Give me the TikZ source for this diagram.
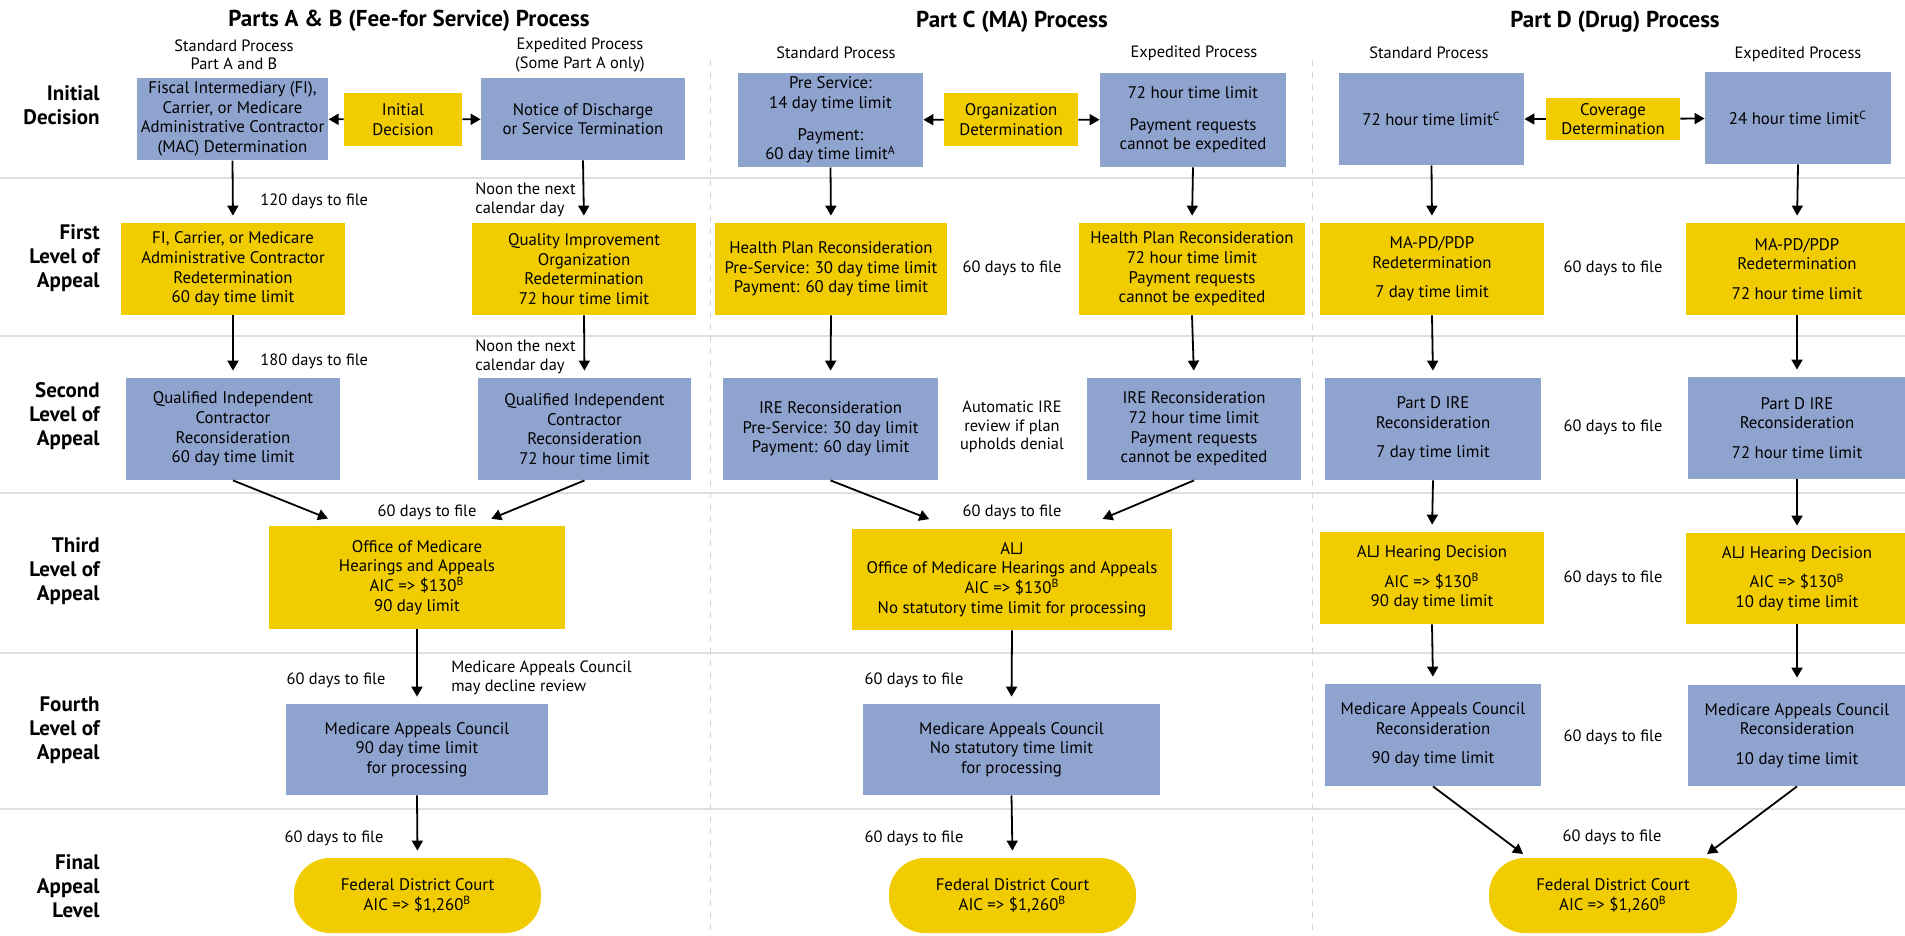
\documentclass[tikz,border=0pt]{standalone}
\usepackage{fontspec}
\setmainfont{PT Sans}
\usepackage{tikz}
\usetikzlibrary{
  arrows.meta,
  positioning
}
\usepackage{xcolor}
\definecolor{bxblue}{HTML}{8FA3CF}
\definecolor{bxgold}{HTML}{F0CC00}

\begin{document}
\begin{tikzpicture}[x=0.5pt, y=-0.5pt,
    bb/.style={fill=bxblue, align=center, inner sep=2pt,
               font=\fontsize{8.4}{9.8}\selectfont},
    by/.style={bb, fill=bxgold},
    ct/.style={by, rounded corners=18pt},
    lf/.style={align=center, inner sep=1pt, font=\fontsize{8.2}{9.2}\selectfont},
    hd/.style={font=\bfseries\fontsize{11.5}{13}\selectfont},
    rw/.style={align=right, anchor=east, inner sep=0pt,
               font=\bfseries\fontsize{10.5}{12}\selectfont},
    ar/.style={-{Triangle[length=5pt,width=5.5pt]}, line width=0.9pt},
    sep/.style={gray!25, line width=1pt},
    col/.style={gray!35, dashed, line width=0.4pt}
  ]
    \useasboundingbox (0,0) rectangle (1905,936);
    \foreach \y in {178,336,493,653,809} \draw[sep] (0,\y) -- (1905,\y);
    \foreach \x in {710,1312} \draw[col] (\x,60) -- (\x,936);

    % headings and row labels
    \node[hd] (tab) at (409,21) {Parts A \& B (Fee-for Service) Process};
    \node[hd] (tc)  at (1012,22) {Part C (MA) Process};
    \node[hd] (td)  at (1615,22) {Part D (Drug) Process};
    \node[lf] (sab) at (234,55) {Standard Process\\Part A and B};
    \node[lf] (eab) at (580,55) {Expedited Process\\(Some Part A only)};
    \node[lf] (sc)  at (836,53) {Standard Process};
    \node[lf] (ec)  at (1194,53) {Expedited Process};
    \node[lf] (sd)  at (1429,53) {Standard Process};
    \node[lf] (ed)  at (1798,54) {Expedited Process};
    \node[rw] (r0) at (100,105) {Initial\\Decision};
    \node[rw] (r1) at (100,258) {First\\Level of\\Appeal};
    \node[rw] (r2) at (100,416) {Second\\Level of\\Appeal};
    \node[rw] (r3) at (100,571) {Third\\Level of\\Appeal};
    \node[rw] (r4) at (100,730) {Fourth\\Level of\\Appeal};
    \node[rw] (r5) at (100,886) {Final\\Appeal\\Level};

    % parts A and B
    \node[bb, minimum width=92.5pt, minimum height=41pt] (fimac) at (232.5,119)
      {Fiscal Intermediary (FI),\\Carrier, or Medicare\\Administrative Contractor\\(MAC) Determination};
    \node[by, minimum width=59pt, minimum height=26.5pt] (initdec) at (403,119.5) {Initial\\Decision};
    \node[bb, minimum width=102pt, minimum height=41pt] (notice) at (583,119)
      {Notice of Discharge\\or Service Termination};
    \node[by, minimum width=112pt, minimum height=46pt] (redet) at (233,269)
      {FI, Carrier, or Medicare\\Administrative Contractor\\Redetermination\\60 day time limit};
    \node[by, minimum width=112pt, minimum height=46pt] (qio) at (584,269)
      {Quality Improvement\\Organization\\Redetermination\\72 hour time limit};
    \node[bb, minimum width=107pt, minimum height=51pt] (qicstd) at (233,429)
      {Qualified Independent\\Contractor\\Reconsideration\\60 day time limit};
    \node[bb, minimum width=106.5pt, minimum height=51pt] (qicexp) at (584.5,429)
      {Qualified Independent\\Contractor\\Reconsideration\\72 hour time limit};
    \node[by, minimum width=148pt, minimum height=51.5pt] (omha) at (417,577.5)
      {Office of Medicare\\Hearings and Appeals\\AIC => \$130\textsuperscript{B}\\90 day limit};
    \node[bb, minimum width=131pt, minimum height=45.5pt] (macab) at (417,749.5)
      {Medicare Appeals Council\\90 day time limit\\for processing};
    \node[ct, minimum width=123.5pt, minimum height=37.5pt] (fdcab) at (417.5,895.5)
      {Federal District Court\\AIC => \$1,260\textsuperscript{B}};
    \node[lf, anchor=west] (l120) at (258,201) {120 days to file};
    \node[lf, anchor=west, align=left] (lnoon1) at (473,200) {Noon the next\\calendar day};
    \node[lf, anchor=west] (l180) at (258,361) {180 days to file};
    \node[lf, anchor=west, align=left] (lnoon2) at (473,357) {Noon the next\\calendar day};
    \node[lf] (lab3) at (427,512) {60 days to file};
    \node[lf] (lab4) at (336,680) {60 days to file};
    \node[lf, anchor=west, align=left] (ldecl) at (449,678) {Medicare Appeals Council\\may decline review};
    \node[lf] (lab5) at (334,838) {60 days to file};

    % part C
    \node[bb, minimum width=92.5pt, minimum height=47pt] (preserv) at (830.5,120)
      {Pre Service:\\14 day time limit\\[6pt]Payment:\\60 day time limit\textsuperscript{A}};
    \node[by, minimum width=67pt, minimum height=26.5pt] (orgdet) at (1011,119.5) {Organization\\Determination};
    \node[bb, minimum width=93pt, minimum height=47pt] (cexp) at (1193,120)
      {72 hour time limit\\[6pt]Payment requests\\cannot be expedited};
    \node[by, minimum width=116pt, minimum height=46pt] (hprstd) at (831,269)
      {Health Plan Reconsideration\\Pre-Service: 30 day time limit\\Payment: 60 day time limit};
    \node[by, minimum width=113pt, minimum height=46pt] (hprexp) at (1192,269)
      {Health Plan Reconsideration\\72 hour time limit\\Payment requests\\cannot be expedited};
    \node[bb, minimum width=107.5pt, minimum height=51pt] (irestd) at (830.5,429)
      {IRE Reconsideration\\Pre-Service: 30 day limit\\Payment: 60 day limit};
    \node[bb, minimum width=107pt, minimum height=51pt] (ireexp) at (1194,429)
      {IRE Reconsideration\\72 hour time limit\\Payment requests\\cannot be expedited};
    \node[by, minimum width=160pt, minimum height=50.5pt] (aljc) at (1012,579.5)
      {ALJ\\Office of Medicare Hearings and Appeals\\AIC => \$130\textsuperscript{B}\\No statutory time limit for processing};
    \node[bb, minimum width=148.5pt, minimum height=45.5pt] (macc) at (1011.5,749.5)
      {Medicare Appeals Council\\No statutory time limit\\for processing};
    \node[ct, minimum width=123.5pt, minimum height=37.5pt] (fdcc) at (1012.5,895.5)
      {Federal District Court\\AIC => \$1,260\textsuperscript{B}};
    \node[lf] (lc1) at (1012,268) {60 days to file};
    \node[lf] (lcauto) at (1012,427) {Automatic IRE\\review if plan\\upholds denial};
    \node[lf] (lc3) at (1012,512) {60 days to file};
    \node[lf] (lc4) at (914,680) {60 days to file};
    \node[lf] (lc5) at (914,838) {60 days to file};

    % part D
    \node[bb, minimum width=92.5pt, minimum height=46pt] (dstd) at (1431.5,119) {72 hour time limit\textsuperscript{C}};
    \node[by, minimum width=67pt, minimum height=21pt] (covdet) at (1613,119) {Coverage\\Determination};
    \node[bb, minimum width=93pt, minimum height=46pt] (dexp) at (1798,118) {24 hour time limit\textsuperscript{C}};
    \node[by, minimum width=112pt, minimum height=46pt] (mapdstd) at (1432,269)
      {MA-PD/PDP\\Redetermination\\[5pt]7 day time limit};
    \node[by, minimum width=111pt, minimum height=46pt] (mapdexp) at (1797,269)
      {MA-PD/PDP\\Redetermination\\[5pt]72 hour time limit};
    \node[bb, minimum width=108pt, minimum height=51pt] (direstd) at (1433,429)
      {Part D IRE\\Reconsideration\\[5pt]7 day time limit};
    \node[bb, minimum width=109pt, minimum height=51pt] (direexp) at (1797,428)
      {Part D IRE\\Reconsideration\\[5pt]72 hour time limit};
    \node[by, minimum width=112pt, minimum height=46pt] (aljdstd) at (1432,578)
      {ALJ Hearing Decision\\[5pt]AIC => \$130\textsuperscript{B}\\90 day time limit};
    \node[by, minimum width=111pt, minimum height=45.5pt] (aljdexp) at (1797,578.5)
      {ALJ Hearing Decision\\[5pt]AIC => \$130\textsuperscript{B}\\10 day time limit};
    \node[bb, minimum width=108pt, minimum height=51pt] (macdstd) at (1433,735)
      {Medicare Appeals Council\\Reconsideration\\[5pt]90 day time limit};
    \node[bb, minimum width=109pt, minimum height=50.5pt] (macdexp) at (1797,735.5)
      {Medicare Appeals Council\\Reconsideration\\[5pt]10 day time limit};
    \node[ct, minimum width=124pt, minimum height=37.5pt] (fdcd) at (1613,895.5)
      {Federal District Court\\AIC => \$1,260\textsuperscript{B}};
    \node[lf] (ld1) at (1613,268) {60 days to file};
    \node[lf] (ld2) at (1613,427) {60 days to file};
    \node[lf] (ld3) at (1613,578) {60 days to file};
    \node[lf] (ld4) at (1613,737) {60 days to file};
    \node[lf] (ld5) at (1612,837) {60 days to file};

    \draw[ar] (initdec) -- (fimac); \draw[ar] (initdec) -- (notice);
    \draw[ar] (orgdet) -- (preserv); \draw[ar] (orgdet) -- (cexp);
    \draw[ar] (covdet) -- (dstd); \draw[ar] (covdet) -- (dexp);
    \begin{scope}[shorten >=3.5pt]
      \draw[ar] (fimac.south) -- (redet.north); \draw[ar] (notice.south) -- (qio.north);
      \draw[ar] (redet.south) -- (qicstd.north); \draw[ar] (qio.south) -- (qicexp.north);
      \draw[ar] (omha.south) -- (macab.north); \draw[ar] (macab.south) -- (fdcab.north);
      \draw[ar] (preserv.south) -- (hprstd.north); \draw[ar] (cexp.south) -- (hprexp.north);
      \draw[ar] (hprstd.south) -- (irestd.north); \draw[ar] (hprexp.south) -- (ireexp.north);
      \draw[ar] (aljc.south) -- (macc.north); \draw[ar] (macc.south) -- (fdcc.north);
      \draw[ar] (dstd.south) -- (mapdstd.north); \draw[ar] (dexp.south) -- (mapdexp.north);
      \draw[ar] (mapdstd.south) -- (direstd.north); \draw[ar] (mapdexp.south) -- (direexp.north);
      \draw[ar] (direstd.south) -- (aljdstd.north); \draw[ar] (direexp.south) -- (aljdexp.north);
      \draw[ar] (aljdstd.south) -- (macdstd.north); \draw[ar] (aljdexp.south) -- (macdexp.north);
    \end{scope}
    \draw[ar, shorten >=9.5pt] (qicstd.south) -- (omha.144); \draw[ar, shorten >=9pt] (qicexp.south) -- (omha.42);
    \draw[ar, shorten >=13pt] (irestd.south) -- (aljc.139); \draw[ar, shorten >=12.5pt] (ireexp.south) -- (aljc.37);
    \draw[ar, shorten >=3pt] (macdstd.south) -- (fdcd.156); \draw[ar, shorten >=3pt] (macdexp.south) -- (fdcd.23);
\end{tikzpicture}
\end{document}
